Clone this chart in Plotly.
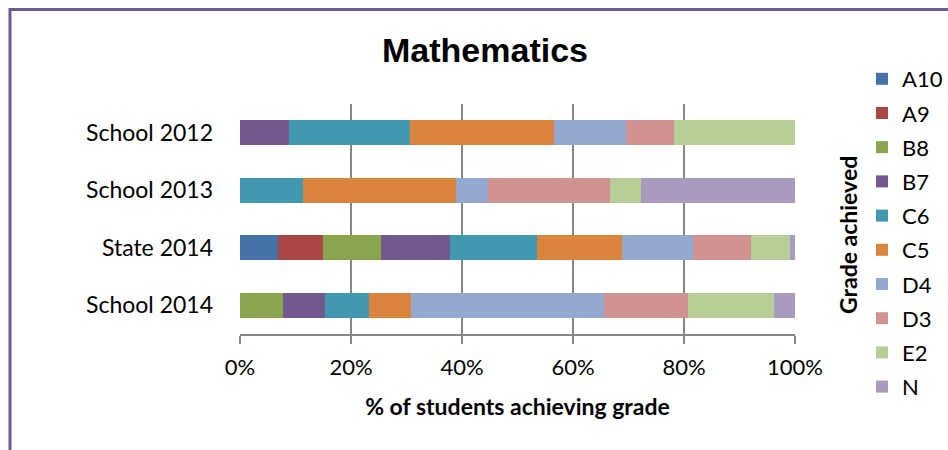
import plotly.graph_objects as go

categories = ["School 2012", "School 2013", "State 2014", "School 2014"]
grades = ["A10", "A9", "B8", "B7", "C6", "C5", "D4", "D3", "E2", "N"]
colors = ["#4572a7", "#aa4643", "#89a54e", "#71588f", "#4198af",
          "#db843d", "#93a9cf", "#d19392", "#b9cd96", "#a99bbd"]

# percent of students per grade, in order of categories
A10 = [0.0, 0.0, 6.9, 0.0]
A9 = [0.0, 0.0, 8.1, 0.0]
B8 = [0.0, 0.0, 10.4, 7.8]
B7 = [8.8, 0.0, 12.4, 7.6]
C6 = [21.8, 11.3, 15.8, 7.8]
C5 = [26.0, 27.7, 15.3, 7.7]
D4 = [13.0, 5.6, 12.8, 34.6]
D3 = [8.6, 22.1, 10.3, 15.2]
E2 = [21.8, 5.5, 7.1, 15.5]
N = [0.0, 27.8, 0.9, 3.8]
series = [A10, A9, B8, B7, C6, C5, D4, D3, E2, N]

tick_vals = [0, 20, 40, 60, 80, 100]
tick_text = ["0%", "20%", "40%", "60%", "80%", "100%"]

body_font = "Lato, 'Open Sans', sans-serif"

fig = go.Figure()
for g, vals, c in zip(grades, series, colors):
    fig.add_trace(go.Bar(
        y=categories, x=vals, name=g, orientation="h",
        marker=dict(color=c, line=dict(width=0)),
        legendgroup=g,
    ))

L, R, T, B = 240, 153, 104, 116
W, H = 948, 450
pw = W - L - R
ph = H - T - B

fig.update_layout(
    width=W, height=H,
    barmode="stack", bargap=0.56,
    paper_bgcolor="white", plot_bgcolor="white",
    margin=dict(l=L, r=R, t=T, b=B, pad=0),
    font=dict(family=body_font, size=22, color="#000000"),
    title=dict(text="<b>Mathematics</b>", x=485 / W, xanchor="center",
               y=1 - 50 / H, yanchor="middle",
               font=dict(family="'Liberation Sans', Arial, sans-serif", size=34)),
    xaxis=dict(range=[0, 100], tickvals=tick_vals, ticktext=tick_text,
               showgrid=True, gridcolor="#868686", gridwidth=2,
               showline=True, linecolor="#868686", linewidth=2,
               ticks="outside", ticklen=8, tickcolor="#868686", tickwidth=2,
               zeroline=False, fixedrange=True, ticklabelstandoff=5,
               tickfont=dict(size=22),
               title=dict(text="<b>% of students achieving grade</b>",
                          font=dict(size=23), standoff=19)),
    yaxis=dict(autorange="reversed", showgrid=False, showline=False,
               ticks="", ticklabelstandoff=26, zeroline=False,
               tickfont=dict(size=23), fixedrange=True),
    legend=dict(x=862 / W, xref="container", y=1 - 58 / H, yref="container",
                xanchor="left", yanchor="top", traceorder="grouped",
                tracegroupgap=2.6, font=dict(size=22), itemwidth=30,
                maxheight=420, bgcolor="rgba(0,0,0,0)"),
    showlegend=True,
    annotations=[dict(text="<b>Grade achieved</b>", textangle=-90,
                      xref="paper", yref="paper",
                      x=(848 - L) / pw, y=(H - 235 - B) / ph,
                      xanchor="center", yanchor="middle", showarrow=False,
                      font=dict(size=23))],
    shapes=[dict(type="rect", xref="paper", yref="paper",
                 x0=(10 - L) / pw, x1=(W + 20 - L) / pw,
                 y0=(H - (H + 20) - B) / ph, y1=(H - 9.5 - B) / ph,
                 line=dict(color="#70588e", width=3), layer="below")],
)

fig.write_html("out.html", config={"displayModeBar": False},
               post_script="document.body.style.margin='0px';"
                           "document.body.style.overflow='hidden';")
